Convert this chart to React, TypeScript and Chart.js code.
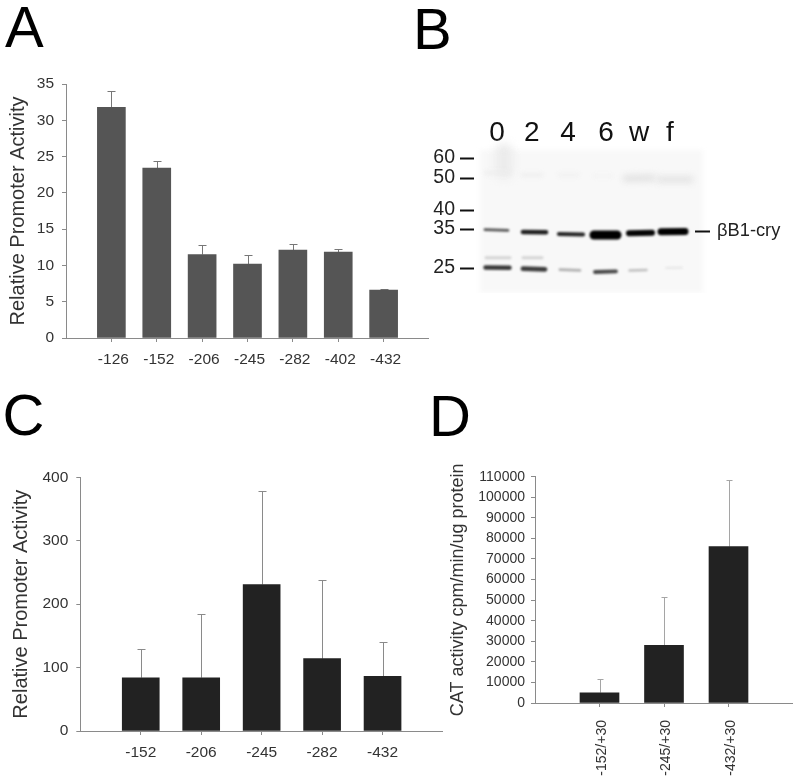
import React, { useEffect, useRef } from "react";
import { Chart, registerables } from "chart.js";

Chart.register(...registerables);

const FONT = "'Liberation Sans', Arial, sans-serif";
const AXIS = "#8a8a8a";
const TEXT = "#333333";

// Panel A
const catsA = ["-126", "-152", "-206", "-245", "-282", "-402", "-432"];
const valsA = [31.8, 23.4, 11.5, 10.2, 12.1, 11.85, 6.6];
const topsA = [34.0, 24.35, 12.8, 11.45, 12.95, 12.3, 6.8];

// Panel C
const catsC = ["-152", "-206", "-245", "-282", "-432"];
const valsC = [84, 84, 231, 114, 86];
const topsC = [130, 184, 378, 238, 141];

// Panel D
const catsD = ["-152/+30", "-245/+30", "-432/+30"];
const valsD = [5000, 28000, 76000];
const topsD = [11900, 51300, 108200];

// Panel B: lanes and size markers
const laneLabels = ["0", "2", "4", "6", "w", "f"];
const lanePos = [23, 57.7, 94, 132, 165, 196];
const markerLabels = ["60", "50", "40", "35", "25"];
const markerPos = [8, 28, 60, 79, 118];
const cryLabel = ["\u03b2B1-cry"];
const cryPos = [81];
const gelX = [6, 229];
const gelY = [0, 143];

// Panel B: bands, in gel units
const bandX0 = [11, 49, 85, 120, 155, 187, 11.5, 49, 86, 121, 155.5, 192, 12, 49, 152, 186, 11, 48, 85, 120, 30];
const bandX1 = [34, 72, 109, 143, 178, 211, 35.5, 71, 106, 142, 172.5, 208, 36, 68, 178, 216, 36, 68, 104, 138, 30];
const bandY0 = [79.7, 82, 84, 85, 83.2, 81.7, 117.5, 118.7, 119.7, 122, 120.5, 117.8, 107.7, 107.7, 28.5, 29.5, 23, 25, 25, 26, 2];
const bandY1 = [80.3, 82.3, 84.5, 85, 82.8, 81.5, 117.8, 119.3, 120.3, 121.4, 120, 117.6, 107.7, 107.7, 28, 29.5, 23, 25, 25, 26, 20];
const bandW = [2.8, 4.6, 4.2, 9, 6, 7, 4.4, 4.8, 2.8, 3.8, 2.4, 1.8, 3, 3, 7, 7, 3, 3, 3, 2.5, 18];
const bandGray = [85, 30, 35, 0, 5, 0, 55, 60, 175, 70, 190, 228, 212, 212, 226, 228, 236, 236, 240, 242, 236];
const bandBlur = [1, 1.1, 1.1, 1.2, 1, 1, 1.1, 1.2, 1.2, 1.1, 1.2, 1.2, 1.3, 1.3, 3, 3, 2, 2, 2, 2, 4];

type BarPanel = {
  cats: string[];
  vals: number[];
  tops: number[];
  max: number;
  step: number;
  color: string;
  stem: string;
  barPx: number;
  capPx: number;
  title: string;
  titleSize: number;
  titlePad: number;
  tickSize: number;
  yWidth: number;
  xHeight: number;
  padTop: number;
  yPad: number;
  xPad: number;
  labelShift: number;
  rotate: number;
};

const fixBox = (s: any, size: { width?: number; height?: number }) => {
  if (size.width !== undefined) s.width = size.width;
  if (size.height !== undefined) s.height = size.height;
  s.paddingLeft = 0;
  s.paddingRight = 0;
  s.paddingTop = 0;
  s.paddingBottom = 0;
};

const errorBars = (p: BarPanel) => ({
  id: "errorBars",
  beforeDatasetsDraw(chart: any) {
    const ctx = chart.ctx;
    const meta = chart.getDatasetMeta(0);
    const y = chart.scales.y;
    ctx.save();
    ctx.strokeStyle = p.stem;
    ctx.lineWidth = 1;
    p.tops.forEach((t, i) => {
      const el = meta.data[i + 1];
      const px = Math.round(el.x) + 0.5;
      const top = Math.round(y.getPixelForValue(t)) + 0.5;
      const base = y.getPixelForValue(p.vals[i]);
      ctx.beginPath();
      ctx.moveTo(px, base);
      ctx.lineTo(px, top);
      ctx.moveTo(px - p.capPx / 2, top);
      ctx.lineTo(px + p.capPx / 2, top);
      ctx.stroke();
    });
    ctx.restore();
  },
});

const barConfig = (p: BarPanel): any => ({
  type: "bar",
  data: {
    labels: ["", ...p.cats, ""],
    datasets: [
      {
        data: [null, ...p.vals, null],
        backgroundColor: p.color,
        barThickness: p.barPx,
      },
    ],
  },
  plugins: [errorBars(p)],
  options: {
    animation: false,
    responsive: false,
    layout: { padding: { top: p.padTop, left: 0, right: 0, bottom: 0 } },
    plugins: { legend: { display: false }, tooltip: { enabled: false } },
    scales: {
      x: {
        offset: false,
        afterFit: (s: any) => fixBox(s, { height: p.xHeight }),
        border: { color: AXIS, width: 1 },
        grid: {
          offset: false,
          drawOnChartArea: false,
          tickLength: 4,
          tickColor: (c: any) => (c.tick && c.tick.label ? AXIS : "rgba(0,0,0,0)"),
        },
        ticks: {
          autoSkip: false,
          minRotation: p.rotate,
          maxRotation: p.rotate,
          labelOffset: p.labelShift,
          padding: p.xPad,
          color: TEXT,
          font: { family: FONT, size: p.tickSize },
        },
      },
      y: {
        min: 0,
        max: p.max,
        afterFit: (s: any) => fixBox(s, { width: p.yWidth }),
        border: { color: AXIS, width: 1 },
        grid: { drawOnChartArea: false, tickLength: 4, tickColor: AXIS },
        title: {
          display: true,
          text: p.title,
          color: TEXT,
          padding: { top: p.titlePad, bottom: 0 },
          font: { family: FONT, size: p.titleSize },
        },
        ticks: {
          stepSize: p.step,
          padding: p.yPad,
          color: TEXT,
          font: { family: FONT, size: p.tickSize },
          callback: (v: any) => String(v),
        },
      },
    },
  },
});

const panelA: BarPanel = {
  cats: catsA, vals: valsA, tops: topsA, max: 35, step: 5, color: "#555555", stem: "#777777",
  barPx: 28, capPx: 8, title: "Relative Promoter Activity", titleSize: 20, titlePad: 6, tickSize: 15.5,
  yWidth: 66, xHeight: 34, padTop: 14, yPad: 8, xPad: 8, labelShift: 2, rotate: 0,
};
const panelC: BarPanel = {
  cats: catsC, vals: valsC, tops: topsC, max: 400, step: 100, color: "#222222", stem: "#8a8a8a",
  barPx: 37, capPx: 8, title: "Relative Promoter Activity", titleSize: 20, titlePad: 9, tickSize: 15.5,
  yWidth: 80.3, xHeight: 40, padTop: 14.3, yPad: 8, xPad: 8, labelShift: 0, rotate: 0,
};
const panelD: BarPanel = {
  cats: catsD, vals: valsD, tops: topsD, max: 110000, step: 10000, color: "#222222", stem: "#a5a5a5",
  barPx: 39, capPx: 6, title: "CAT activity cpm/min/ug protein", titleSize: 18, titlePad: 27, tickSize: 14,
  yWidth: 115, xHeight: 78, padTop: 13.7, yPad: 6, xPad: 13, labelShift: 2.4, rotate: 90,
};

const gelPlugin = {
  id: "gel",
  beforeDraw(chart: any) {
    const { x, y } = chart.scales;
    const ctx = chart.ctx;
    ctx.save();
    ctx.filter = "blur(2px)";
    ctx.fillStyle = "#f8f8f8";
    const l = x.getPixelForValue(gelX[0]);
    const r = x.getPixelForValue(gelX[1]);
    const t = y.getPixelForValue(gelY[0]);
    const b = y.getPixelForValue(gelY[1]);
    ctx.fillRect(l, t, r - l, b - t);
    ctx.restore();
  },
  beforeDatasetDraw(chart: any, args: any) {
    chart.ctx.save();
    chart.ctx.filter = `blur(${bandBlur[args.index]}px)`;
  },
  afterDatasetDraw(chart: any) {
    chart.ctx.restore();
  },
};

const blotConfig = (): any => ({
  type: "scatter",
  data: {
    datasets: bandX0.map((x0, i) => ({
      data: [
        { x: x0, y: bandY0[i] },
        { x: bandX1[i], y: bandY1[i] },
      ],
      showLine: true,
      borderColor: `rgb(${bandGray[i]},${bandGray[i]},${bandGray[i]})`,
      borderWidth: bandW[i],
      borderCapStyle: "round",
      pointRadius: 0,
      clip: false,
    })),
  },
  plugins: [gelPlugin],
  options: {
    animation: false,
    responsive: false,
    layout: { padding: 0 },
    plugins: { legend: { display: false }, tooltip: { enabled: false } },
    scales: {
      x: {
        type: "linear",
        position: "top",
        min: 0,
        max: 221,
        afterFit: (s: any) => fixBox(s, { height: 50 }),
        afterBuildTicks: (s: any) => {
          s.ticks = lanePos.map((value) => ({ value }));
        },
        border: { display: false },
        grid: { display: false, drawTicks: false },
        ticks: {
          autoSkip: false,
          maxRotation: 0,
          padding: 0,
          color: "#111111",
          font: { family: FONT, size: 28 },
          callback: (_v: any, i: number) => laneLabels[i],
        },
      },
      y: {
        type: "linear",
        position: "left",
        reverse: true,
        min: 0,
        max: 143,
        afterFit: (s: any) => fixBox(s, { width: 54 }),
        afterBuildTicks: (s: any) => {
          s.ticks = markerPos.map((value) => ({ value }));
        },
        border: { display: false },
        grid: { drawOnChartArea: false, tickLength: 14, tickWidth: 2, tickColor: "#111111" },
        ticks: {
          autoSkip: false,
          padding: 5,
          color: "#222222",
          font: { family: FONT, size: 19.5 },
          callback: (_v: any, i: number) => markerLabels[i],
        },
      },
      yr: {
        type: "linear",
        position: "right",
        reverse: true,
        min: 0,
        max: 143,
        afterFit: (s: any) => fixBox(s, { width: 105 }),
        afterBuildTicks: (s: any) => {
          s.ticks = cryPos.map((value) => ({ value }));
        },
        border: { display: false },
        grid: { drawOnChartArea: false, tickLength: 15, tickWidth: 2, tickColor: "#111111" },
        ticks: {
          autoSkip: false,
          padding: 7,
          color: "#222222",
          font: { family: FONT, size: 18.3 },
          callback: (_v: any, i: number) => cryLabel[i],
        },
      },
    },
  },
});

function ChartCanvas({ config, left, top, width, height }: any) {
  const ref = useRef<HTMLCanvasElement>(null);
  useEffect(() => {
    const chart = new Chart(ref.current as HTMLCanvasElement, config());
    return () => chart.destroy();
  }, []);
  return (
    <canvas
      ref={ref}
      width={width}
      height={height}
      style={{ position: "absolute", left, top, width, height, filter: "blur(0.3px)" }}
    />
  );
}

const letters = [
  { t: "A", left: 5, top: -2.5 },
  { t: "B", left: 413, top: 0 },
  { t: "C", left: 2.5, top: 386 },
  { t: "D", left: 429, top: 386.5 },
];

export default function App() {
  return (
    <div
      style={{
        position: "fixed",
        left: 0,
        top: 0,
        width: 800,
        height: 782,
        overflow: "hidden",
        background: "#ffffff",
      }}
    >
      <ChartCanvas config={() => barConfig(panelA)} left={0} top={70} width={429} height={302} />
      <ChartCanvas config={blotConfig} left={420} top={100} width={380} height={193} />
      <ChartCanvas config={() => barConfig(panelC)} left={0} top={463} width={443} height={308} />
      <ChartCanvas config={() => barConfig(panelD)} left={420} top={463} width={373} height={318} />
      {letters.map((l) => (
        <div
          key={l.t}
          style={{
            position: "absolute",
            left: l.left,
            top: l.top,
            fontFamily: FONT,
            fontSize: 58,
            lineHeight: "58px",
            color: "#000000",
          }}
        >
          {l.t}
        </div>
      ))}
    </div>
  );
}
